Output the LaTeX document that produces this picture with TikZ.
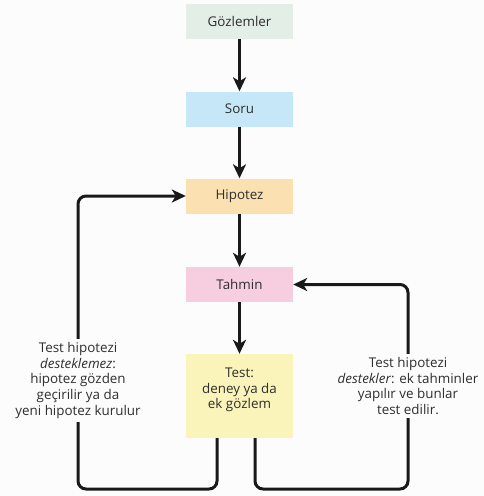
\documentclass[tikz,border=0pt]{standalone}
\usepackage{fontspec}
\setmainfont{Open Sans}
\usetikzlibrary{arrows.meta}
\definecolor{bgc}{HTML}{FCFCFC}
\definecolor{txt}{HTML}{2E2E2E}
\definecolor{cgoz}{HTML}{E3EEE6}
\definecolor{csoru}{HTML}{C6E7F8}
\definecolor{chip}{HTML}{FBE0B2}
\definecolor{ctah}{HTML}{F7CEE0}
\definecolor{ctest}{HTML}{FBF4BA}
\tikzset{
  box/.style={minimum width=107pt, minimum height=35pt, inner sep=0pt,
    font=\fontsize{13.4}{15.6}\selectfont, text=txt, align=center},
  lbl/.style={fill=bgc, inner xsep=1pt, inner ysep=3pt, align=center,
    font=\fontsize{13.4}{15.8}\selectfont, text=txt},
  conn/.style={line width=3pt, draw=black!90,
    -{Stealth[length=14pt, width=13pt, inset=4pt]}},
  loop/.style={conn, rounded corners=8pt}
}
\begin{document}
\begin{tikzpicture}[x=1pt,y=-1pt]
\fill[bgc] (0,0) rectangle (484,496);
\useasboundingbox (0,0) rectangle (484,496);

% main chain of steps
\node[box, fill=cgoz] (g) at (239.5,21.5) {Gözlemler};
\node[box, fill=csoru] (s) at (239.5,109) {Soru};
\node[box, fill=chip] (h) at (239.5,196) {Hipotez};
\node[box, fill=ctah] (t) at (239.5,284.5) {Tahmin};
\node[box, fill=ctest, minimum height=84pt] (x) at (239.5,396) {};
\node[box, minimum height=0pt] (xt) at (239.5,390) {Test:\\deney ya da\\ek gözlem};

\draw[conn] (g) -- (s);
\draw[conn] (s) -- (h);
\draw[conn] (h) -- (t);
\draw[conn] (t) -- (x);

% feedback loops
\coordinate (lb) at (78,489);
\coordinate (rb) at (408,489);
\draw[loop] ([xshift=-22.5pt]x.south) |- (lb) |- (h.west);
\draw[loop] ([xshift=15.5pt]x.south) |- (rb) |- (t.east);

% loop labels, drawn over the vertical runs
\node[lbl] (ll) at (78,380.5) {Test hipotezi\\\textit{desteklemez}:\\hipotez gözden\\geçirilir ya da\\yeni hipotez kurulur};
\node[lbl] (rl) at (408,386) {Test hipotezi\\\textit{destekler}: ek tahminler\\yapılır ve bunlar\\test edilir.};
\end{tikzpicture}
\end{document}
